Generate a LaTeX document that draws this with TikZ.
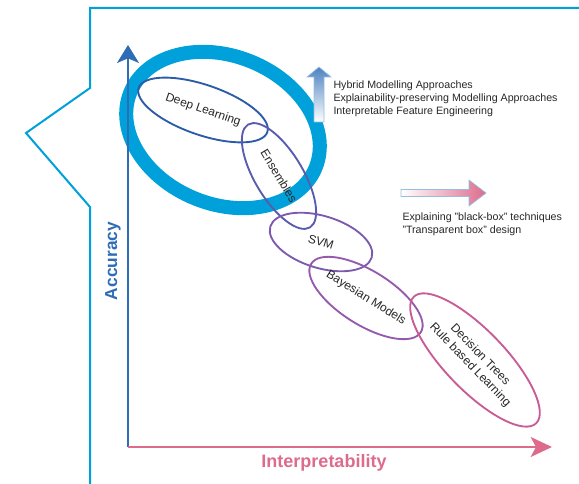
\documentclass[tikz,border=0pt]{standalone}
\usepackage{fontspec}
\setmainfont{Liberation Sans}
\usetikzlibrary{shapes.geometric,arrows.meta}

\definecolor{ringcyan}{RGB}{0,160,218}
\definecolor{accblue}{RGB}{46,108,182}
\definecolor{intpink}{RGB}{221,108,140}
\definecolor{dlblue}{RGB}{42,92,168}
\definecolor{ensblue}{RGB}{88,92,172}
\definecolor{svmviolet}{RGB}{124,90,174}
\definecolor{bayesviolet}{RGB}{150,90,172}
\definecolor{dtpink}{RGB}{200,92,150}
\definecolor{arrowrim}{RGB}{150,190,225}

\tikzset{every picture/.style={line width=0.75pt}}

\begin{document}
\begin{tikzpicture}[x=0.75pt,y=0.75pt,yscale=-1,xscale=1,
  model/.style={ellipse,draw,line width=1.4pt,inner sep=0pt,align=center,
    text=black!85,font=\fontsize{9}{10.5}\selectfont},
  note/.style={anchor=north west,inner sep=0pt,align=left,
    text=black!85,font=\fontsize{8}{9.7}\selectfont}]
\useasboundingbox (0,0) rectangle (579,484);

%Straight Lines [frame]
\draw [color=ringcyan, line width=1.5pt]  (90,484) -- (90,207) -- (26,133) -- (90,88) -- (90,8) -- (579,8) ;

%Shape: Ellipse [ring]
\node (ring) [ellipse, draw=ringcyan, line width=10.5pt, minimum width=150pt, minimum height=111pt, rotate=-22] at (223,130) {};

%Straight Lines [axes]
\coordinate (origin) at (128,447);
\coordinate (ytip) at (128,45);
\coordinate (xtip) at (552,447);
\draw [color=accblue, line width=1.5pt, -{Stealth[length=13.5pt,width=16.5pt,inset=3.5pt]}]  (origin) -- (ytip) ;
\draw [color=intpink, line width=1.5pt, -{Stealth[length=16pt,width=15pt,inset=4pt]}]  (origin) -- (xtip) ;

%Shape: Ellipse [models]
\node (dl) [model, draw=dlblue, minimum width=102pt, minimum height=37.5pt, rotate=-19] at (203,110) {Deep Learning};
\node (ens) [model, draw=ensblue, minimum width=90pt, minimum height=36pt, rotate=-59] at (279,176) {Ensembles};
\node (svm) [model, draw=svmviolet, minimum width=79.5pt, minimum height=39pt, rotate=-17] at (321,242) {SVM};
\node (bayes) [model, draw=bayesviolet, minimum width=96pt, minimum height=40.5pt, rotate=-32] at (366,298) {Bayesian Models};
\node (dt) [model, draw=dtpink, minimum width=132pt, minimum height=45pt, rotate=-46] at (475,360) {Decision Trees\\Rule based Learning};

%Shape: Up Arrow
\shade [top color=accblue!85, bottom color=white, draw=arrowrim, line width=0.5pt]  (314,122) -- (314,77) -- (307,77) -- (319,67) -- (331,77) -- (324,77) -- (324,122) -- cycle ;
%Shape: Right Arrow
\shade [left color=white, right color=intpink, draw=arrowrim, line width=0.5pt]  (401,189.5) -- (469,189.5) -- (469,180) -- (486,193) -- (469,206) -- (469,196.5) -- (401,196.5) -- cycle ;

% Text Node
\node (hybrid) [note] at (333,80) {Hybrid Modelling Approaches\\Explainability-preserving Modelling Approaches\\Interpretable Feature Engineering};
% Text Node
\node (explain) [note] at (402,212) {Explaining "black-box" techniques\\"Transparent box" design};
% Text Node
\node (acc) [rotate=90, text=accblue, font=\bfseries\fontsize{13}{15}\selectfont] at (113,261) {Accuracy};
% Text Node
\node (interp) [text=intpink, font=\bfseries\fontsize{13.5}{16}\selectfont] at (324,463) {Interpretability};

\end{tikzpicture}
\end{document}
